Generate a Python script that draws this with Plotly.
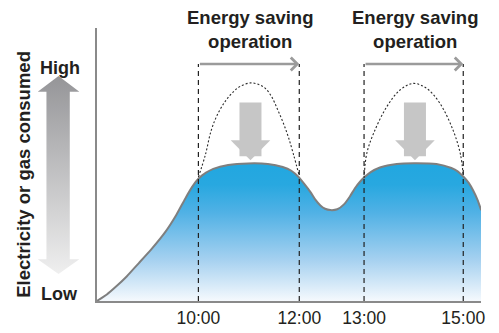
import plotly.graph_objects as go

# schematic time position (px-like units from the y axis) and consumption level
t_curve = [0, 10, 19, 30, 42.3, 55, 69, 80, 89, 96, 102.3, 110, 117.3, 132.3,
           152.3, 172.3, 187.3, 196, 203.3, 209, 215.3, 220, 225.3, 230, 235.3,
           242.3, 249.3, 255, 260.3, 265, 269.3, 276, 285.3, 302.3, 319.3, 342.3,
           357.3, 364, 369.3, 375, 379.3, 384, 387.3]
v_curve = [0, 2.4, 5.2, 9.0, 13.9, 19.0, 25.3, 31.5, 37.5, 41.8, 44.8, 47.0,
           48.4, 49.8, 50.4, 50.2, 49.1, 47.7, 45.4, 42.9, 39.9, 37.2, 35.0,
           33.8, 33.3, 33.6, 35.5, 38.3, 41.4, 43.6, 45.2, 47.2, 48.9, 50.2,
           50.5, 50.2, 48.7, 47.4, 45.6, 43.2, 40.5, 36.8, 33.3]

# peaks that would happen without energy saving
t_peak1 = [102.3, 109.3, 115.3, 122.3, 130.3, 138.3, 145.3, 155.3, 164.3, 170.3,
           176.3, 182.3, 188.3, 193.3, 198.3, 204]
v_peak1 = [45.4, 53.5, 62.6, 68.9, 73.6, 76.9, 78.8, 79.9, 79.1, 77.7,
           74.7, 70.0, 64.8, 59.7, 53.5, 45.8]
t_peak2 = [269.3, 272, 279, 292.3, 305.6, 319, 332.3, 345.6, 359, 366.5, 369.3]
v_peak2 = [45.1, 54.0, 61.5, 71.2, 77.3, 79.7, 77.9, 72.5, 62.6, 53.7, 45.8]

tick_pos = [102.3, 204, 269.3, 369.3]
tick_text = ["10:00", "12:00", "13:00", "15:00"]

# energy saving periods (start, end) and arrow centres
periods = [(102.3, 204), (269.3, 369.3)]
down_arrow_x = [154.8, 320.6]

FONT = "Arial, Liberation Sans, sans-serif"
TXT = "#231f20"

fig = go.Figure()

fig.add_trace(go.Scatter(
    x=t_curve, y=v_curve, mode="lines", line=dict(color="#7f7f7f", width=2, shape="spline", smoothing=0.5),
    fill="tozeroy",
    fillgradient=dict(type="vertical", start=0, stop=50,
                      colorscale=[[0, "#f5f9fd"], [0.3, "#a6d1f0"], [0.65, "#50b1e5"],
                                  [0.85, "#28a8e0"], [1, "#22a7e0"]]),
    hoverinfo="skip", showlegend=False,
))

for tx, vy in [(t_peak1, v_peak1), (t_peak2, v_peak2)]:
    fig.add_trace(go.Scatter(x=tx, y=vy, mode="lines",
                             line=dict(color="#2a2a2a", width=1.1, dash="2px,2px", shape="spline"),
                             hoverinfo="skip", showlegend=False))

arrow_y = 86.8
for p in tick_pos:
    fig.add_trace(go.Scatter(x=[p, p], y=[0, arrow_y], mode="lines",
                             line=dict(color="#222", width=1.2, dash="5px,4px"),
                             hoverinfo="skip", showlegend=False))

# left gradient double arrow (own axes)
sx0, sx1 = 0.21, 0.77
hb0, hb1 = 0.075, 0.92
fig.add_trace(go.Scatter(
    x=[0.5, 1, sx1, sx1, 1, 0.5, 0, sx0, sx0, 0, 0.5],
    y=[1, hb1, hb1, hb0, hb0, 0, hb0, hb0, hb1, hb1, 1],
    mode="lines", line=dict(width=0), fill="toself",
    fillgradient=dict(type="vertical", colorscale=[[0, "#efefef"], [1, "#959598"]]),
    xaxis="x2", yaxis="y2", hoverinfo="skip", showlegend=False,
))

ann = []
for (a, b), cx in zip(periods, down_arrow_x):
    ann.append(dict(x=b, y=arrow_y, ax=a, ay=arrow_y, xref="x", yref="y", axref="x", ayref="y",
                    text="", showarrow=True, arrowhead=4, arrowsize=1, arrowwidth=2.5,
                    arrowcolor="#9b9b9b"))
    ann.append(dict(x=cx, y=51.6, ax=cx, ay=73.3, xref="x", yref="y", axref="x", ayref="y",
                    text="", showarrow=True, arrowhead=1, arrowsize=0.3, arrowwidth=22,
                    arrowcolor="#c6c6c6"))
    ann.append(dict(x=(a + b) / 2 + 1.5, y=(333 - 30) / 333, xref="x", yref="paper",
                    text="<b>Energy saving<br>operation</b>", showarrow=False,
                    font=dict(family=FONT, size=18.5, color=TXT),
                    xanchor="center", yanchor="middle"))

ann += [
    dict(x=60 / 499, y=(333 - 68) / 333, xref="paper", yref="paper", text="<b>High</b>",
         showarrow=False, font=dict(family=FONT, size=18, color=TXT),
         xanchor="center", yanchor="middle"),
    dict(x=60 / 499, y=(333 - 294) / 333, xref="paper", yref="paper", text="<b>Low</b>",
         showarrow=False, font=dict(family=FONT, size=18, color=TXT),
         xanchor="center", yanchor="middle"),
    dict(x=23 / 499, y=(333 - 174) / 333, xref="paper", yref="paper",
         text="<b>Electricity or gas consumed</b>", textangle=-90,
         showarrow=False, font=dict(family=FONT, size=18.5, color=TXT),
         xanchor="center", yanchor="middle"),
]

fig.update_layout(
    width=499, height=333,
    margin=dict(l=0, r=0, t=0, b=0),
    paper_bgcolor="white", plot_bgcolor="white",
    xaxis=dict(domain=[97.7 / 499, 485 / 499], range=[0, 387.3], showgrid=False, zeroline=False,
               showline=True, linecolor="#8a8a8a", linewidth=1.5,
               tickvals=tick_pos, ticktext=tick_text, ticks="",
               tickfont=dict(family=FONT, size=17.5, color=TXT)),
    yaxis=dict(domain=[32 / 333, 305 / 333], range=[0, 100], showgrid=False, zeroline=False,
               showline=True, linecolor="#8a8a8a", linewidth=1.5, showticklabels=False, ticks=""),
    xaxis2=dict(domain=[38 / 499, 80 / 499], range=[0, 1], visible=False, anchor="y2"),
    yaxis2=dict(domain=[59 / 333, 257 / 333], range=[0, 1], visible=False, anchor="x2"),
    annotations=ann,
    showlegend=False,
)

fig.write_html("out.html", config={"displayModeBar": False},
               post_script="document.body.style.margin='0';document.body.style.overflow='hidden';")
